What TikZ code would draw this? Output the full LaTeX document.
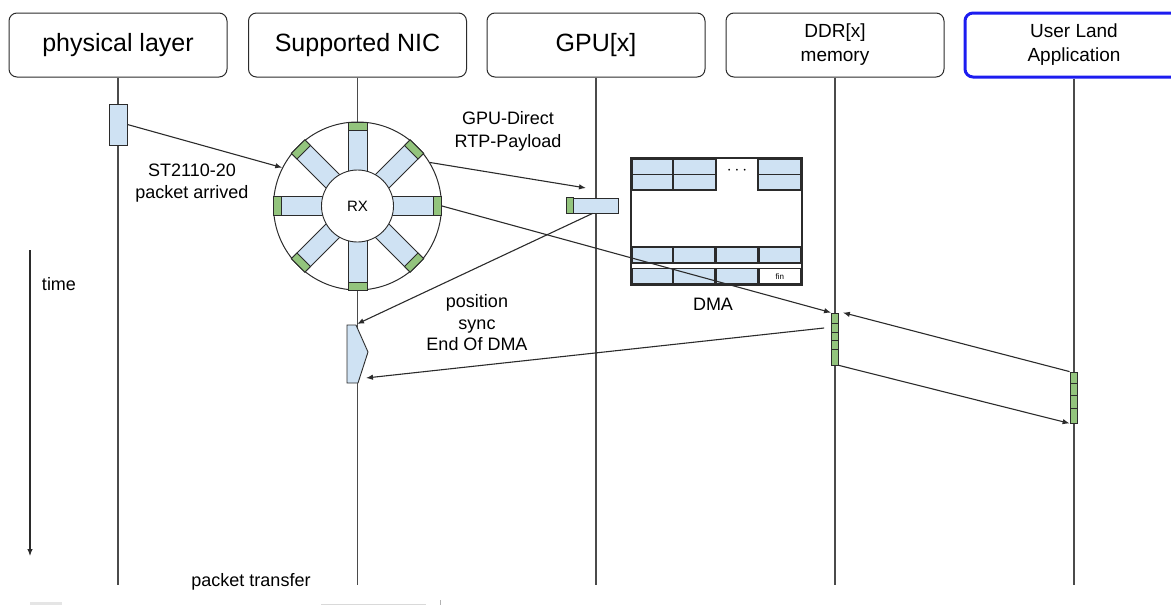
\documentclass[tikz,border=0pt]{standalone}
\usepackage{fontspec}
\setmainfont{Liberation Sans}
\usetikzlibrary{arrows.meta,calc}
\definecolor{cellblue}{HTML}{CFE2F3}
\definecolor{cellgreen}{HTML}{93C47D}
\definecolor{appblue}{HTML}{1C1CF0}
\definecolor{ink}{HTML}{2B2B2B}
\tikzset{
  head/.style={draw=ink, line width=1pt, rounded corners=8pt, minimum width=218pt,
    minimum height=64pt, inner sep=0pt, align=center, font=\fontsize{25}{28}\selectfont},
  lifeline/.style={draw=ink!85, line width=1.2pt},
  arr/.style={draw=ink, line width=1.1pt, -{Latex[length=7pt,width=5.5pt]}},
  lbl/.style={align=center, inner sep=0pt, font=\fontsize{18}{21.5}\selectfont},
  spoke/.style={draw=ink, line width=0.9pt, fill=cellblue},
  greencap/.style={draw=ink, line width=0.9pt, fill=cellgreen},
  cell/.style={draw=ink, line width=1.3pt, fill=cellblue},
  bar/.style={draw=ink, line width=0.8pt, fill=cellgreen, inner sep=0pt, minimum width=7pt},
  pkt/.style={draw=ink, line width=0.9pt, fill=cellblue, inner sep=0pt}
}
\begin{document}
\begin{tikzpicture}[x=1pt,y=-1pt]
\useasboundingbox (0,0) rectangle (1171,605);

% column headers
\node[head] (phy) at (118,45) {physical layer};
\node[head] (nic) at (357.5,45) {Supported NIC};
\node[head] (gpu) at (596,45) {GPU[x]};
\node[head, font=\fontsize{19}{24}\selectfont] (ddr) at (835,45) {DDR[x]\\memory};
\begin{scope}
  \clip (0,0) rectangle (1171,605);
  \node[head, draw=appblue, line width=3pt, font=\fontsize{19}{24}\selectfont] (app) at (1074,45) {User Land\\Application};
\end{scope}

% lifeline end points
\coordinate (phyEnd) at (118,585);
\coordinate (nicEnd) at (357.5,585);
\coordinate (gpuEnd) at (596,585);
\coordinate (ddrEnd) at (835,585);
\coordinate (appEnd) at (1074,585);

\draw[lifeline] (phy.south) -- (phyEnd);
\draw[lifeline] (nic.south) -- (nicEnd);
\draw[lifeline] (gpu.south) -- (gpuEnd);
\draw[lifeline] (ddr.south) -- (ddrEnd);
\draw[lifeline] (app.south) -- (appEnd);

% time axis
\coordinate (t0) at (30,250);
\coordinate (t1) at (30,556);
\draw[arr] (t0) -- (t1);
\node[lbl] (timelbl) at (59,284) {time};
\node[lbl] (xfer) at (251,582) {packet transfer};

% packet on the wire
\node[pkt, minimum width=18pt, minimum height=41pt] (pr) at (118,124.5) {};

% RX ring of the NIC
\node[circle, draw=ink, line width=1pt, fill=white, minimum size=168pt, inner sep=0pt] (ring) at (357.5,206) {};
\foreach \a in {0,45,...,315}{
  \begin{scope}[shift={(ring.center)}, rotate=\a]
    \draw[spoke] (30,-9.5) rectangle (84,9.5);
    \draw[greencap] (76,-9.5) rectangle (84,9.5);
  \end{scope}
}
\node[circle, draw=ink, line width=0.9pt, fill=white, minimum size=72pt, inner sep=0pt,
      font=\fontsize{15}{15}\selectfont] (rx) at (ring.center) {RX};

\draw[arr] (pr.east) -- (ring.153);
\node[lbl] (arrived) at (192,183) {ST2110-20\\packet arrived};

% payload landing in GPU memory
\node[pkt, minimum width=51pt, minimum height=15pt] (gr) at (592.5,205.5) {};
\draw[greencap] (gr.north west) rectangle ($(gr.south west)+(7,0)$);
\coordinate (gtip) at (586,188);
\draw[arr] (ring.31) -- (gtip);
\node[lbl, font=\fontsize{18}{23}\selectfont] (gpudirect) at (508,131) {GPU-Direct\\RTP-Payload};

% DMA frame buffer
\draw[ink, line width=2pt] (631,158) rectangle (802,285);
\foreach \ya/\yb in {159/174.5,174.5/190}{
  \draw[cell] (632.5,\ya) rectangle (673,\yb);
  \draw[cell] (673,\ya) rectangle (716,\yb);
  \draw[cell] (758,\ya) rectangle (801,\yb);
}
\node[font=\fontsize{16}{16}\selectfont, inner sep=0pt] (dots) at (737,171) {$\cdots$};
\foreach \ya/\yb in {247/263,268.5/284}{
  \draw[cell] (632.5,\ya) rectangle (673,\yb);
  \draw[cell] (673,\ya) rectangle (715,\yb);
  \draw[cell] (716,\ya) rectangle (758,\yb);
}
\draw[cell] (759,247) rectangle (800.5,263);
\node[draw=ink, line width=1.3pt, fill=white, minimum width=41.5pt, minimum height=15.5pt,
      inner sep=0pt, font=\fontsize{8}{8}\selectfont] (fin) at (779.75,276.25) {fin};
\node[lbl] (dma) at (713,304) {DMA};

% end-of-DMA marker on the NIC
\coordinate (p1) at (347,325);
\coordinate (p2) at (356,325);
\coordinate (p3) at (368,352);
\coordinate (p4) at (358,383);
\coordinate (p5) at (347,383);
\draw[pkt] (p1) -- (p2) -- (p3) -- (p4) -- (p5) -- cycle;
\coordinate (ptop) at (357,324);
\coordinate (pin) at (366,378);

% DDR and application buffers
\node[bar, minimum height=52pt] (dbar) at (835,339) {};
\foreach \y in {323,332,340,349}{ \draw[ink, line width=0.8pt] (831.5,\y) -- (838.5,\y); }
\node[bar, minimum height=51pt] (ubar) at (1073.5,397.5) {};
\foreach \y in {383,395,408}{ \draw[ink, line width=0.8pt] (1070,\y) -- (1077,\y); }

\draw[arr] (ring.east) -- (dbar.north west);
\draw[arr] (gr.south) -- (ptop);
\coordinate (dstart) at ($(dbar.west)+(-7,-11)$);
\draw[arr] (dstart) -- (pin);
\node[lbl] (possync) at (477,323) {position\\sync\\End Of DMA};

\coordinate (dback) at ($(dbar.north east)+(4,0)$);
\draw[arr] (ubar.north west) -- (dback);
\draw[arr] (dbar.south east) -- (ubar.south west);

% items cut by the lower edge
\fill[gray!20] (30,602) rectangle (62,605);
\draw[gray!30, line width=0.8pt] (321,604) -- (426,604);
\draw[gray!60, line width=1pt] (440,600) -- (440,605);
\end{tikzpicture}
\end{document}
